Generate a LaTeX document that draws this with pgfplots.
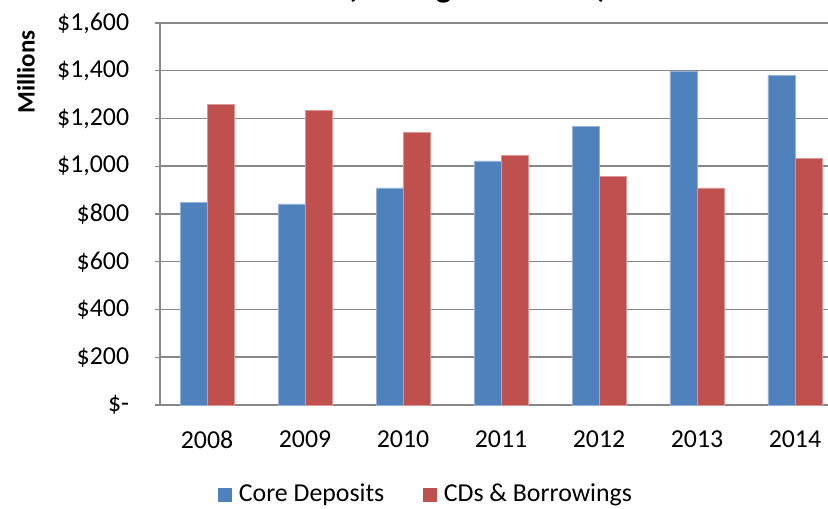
\documentclass[border=0pt]{standalone}
\usepackage{fontspec}
\setmainfont{Carlito}
\usepackage{pgfplots}
\pgfplotsset{compat=1.18}
\definecolor{cblue}{HTML}{4F81BD}
\definecolor{cred}{HTML}{C0504D}
\definecolor{cgrid}{HTML}{888888}
\begin{document}
\begin{tikzpicture}[x=0.6pt,y=0.6pt]
\begin{axis}[
  at={(96pt,62.4pt)}, anchor=south west,
  scale only axis, width=409.8pt, height=229.2pt,
  ybar=0pt, bar width=16.2pt,
  xmin=-0.48, xmax=6.49, ymin=0, ymax=1600,
  xtick={0,...,6}, xticklabels={2008,2009,2010,2011,2012,2013,2014},
  ytick={0,200,...,1600},
  yticklabels={{\$-},{\$200},{\$400},{\$600},{\$800},{\$1,000},{\$1,200},{\$1,400},{\$1,600}},
  ticklabel style={font=\fontsize{15.5}{17}\selectfont},
  x tick label style={yshift=-9pt},
  y tick label style={xshift=-12pt},
  xtick style={draw=none},
  ytick style={draw=cgrid, line width=0.8pt},
  tick align=outside, major tick length=3pt,
  ymajorgrids, grid style={cgrid, line width=0.9pt},
  axis line style={cgrid, line width=0.9pt},
  axis x line*=bottom, axis y line*=left,
  separate axis lines,
  clip=false,
  /pgf/number format/assume math mode=true,
]
\addplot[fill=cblue, draw=cblue!60!white, line width=0.3pt] coordinates {(0,850) (1,842) (2,909) (3,1022) (4,1168) (5,1399) (6,1382)};
\addplot[fill=cred, draw=cred!60!white, line width=0.3pt] coordinates {(0,1260) (1,1235) (2,1143) (3,1047) (4,959) (5,909) (6,1034)};
\end{axis}
\node[font=\bfseries\fontsize{20}{22}\selectfont, anchor=base] at (477,511) {(Average Balances)};
\node[font=\bfseries\fontsize{15}{17}\selectfont, rotate=90] at (26,437) {Millions};
% legend
\fill[cblue] (218,7) rectangle (232,21);
\node[anchor=west, font=\fontsize{15.5}{17}\selectfont] at (233,14) {Core Deposits};
\fill[cred] (423,7) rectangle (437,21);
\node[anchor=west, font=\fontsize{15.5}{17}\selectfont] at (438,14) {CDs \& Borrowings};
\pgfresetboundingbox
\path[use as bounding box] (0,0) rectangle (828,509);
\end{tikzpicture}
\end{document}
